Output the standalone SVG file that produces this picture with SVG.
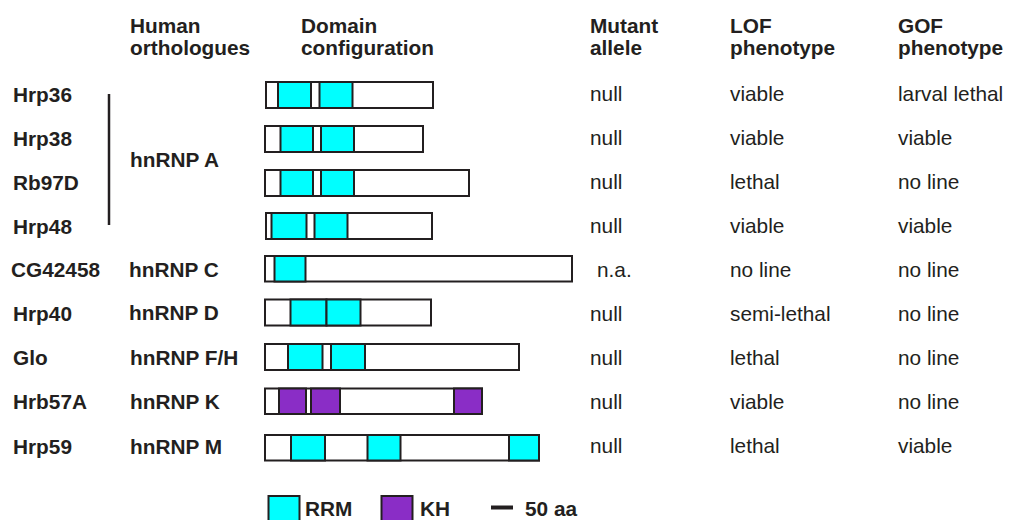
<svg xmlns="http://www.w3.org/2000/svg" width="1009" height="520" viewBox="0 0 1009 520">
<style>
text{font-family:"Liberation Sans",Arial,sans-serif;font-size:20.8px;fill:#231f20}
.b{font-weight:bold}
.bar{fill:#fff;stroke:#231f20;stroke-width:2}
.rrm{fill:#00ffff;stroke:#231f20;stroke-width:2}
.kh{fill:#8a2dc6;stroke:#231f20;stroke-width:2}
</style>
<rect width="1009" height="520" fill="#fff"/>
<g id="headers" class="b">
<text class="b" x="130" y="33">Human</text><text class="b" x="130" y="55">orthologues</text>
<text class="b" x="301" y="33">Domain</text><text class="b" x="301" y="55">configuration</text>
<text class="b" x="590" y="33">Mutant</text><text class="b" x="590" y="55">allele</text>
<text class="b" x="730" y="33">LOF</text><text class="b" x="730" y="55">phenotype</text>
<text class="b" x="898" y="33">GOF</text><text class="b" x="898" y="55">phenotype</text>
</g>
<g id="connectors"><line x1="109" y1="94" x2="109" y2="225" stroke="#231f20" stroke-width="2.5"/></g>
<g id="hnRNPA"><text class="b" x="130" y="167">hnRNP A</text></g>
<g id="Hrp36">
<text class="b" x="13" y="102">Hrp36</text>
<rect class="bar" x="266" y="82" width="167" height="26"/>
<rect class="rrm" x="278" y="82" width="33" height="26"/><rect class="rrm" x="319.5" y="82" width="33" height="26"/>
<text x="590" y="101">null</text><text x="730" y="101">viable</text><text x="898" y="101">larval lethal</text>
</g>
<g id="Hrp38">
<text class="b" x="13" y="146">Hrp38</text>
<rect class="bar" x="265" y="126" width="158" height="26"/>
<rect class="rrm" x="280.5" y="126" width="32.5" height="26"/><rect class="rrm" x="321" y="126" width="33" height="26"/>
<text x="590" y="145">null</text><text x="730" y="145">viable</text><text x="898" y="145">viable</text>
</g>
<g id="Rb97D">
<text class="b" x="13" y="190">Rb97D</text>
<rect class="bar" x="265" y="170" width="204" height="26"/>
<rect class="rrm" x="280.5" y="170" width="32.5" height="26"/><rect class="rrm" x="321" y="170" width="33" height="26"/>
<text x="590" y="189">null</text><text x="730" y="189">lethal</text><text x="898" y="189">no line</text>
</g>
<g id="Hrp48">
<text class="b" x="13" y="234">Hrp48</text>
<rect class="bar" x="266" y="213" width="166" height="26"/>
<rect class="rrm" x="271.5" y="213" width="35" height="26"/><rect class="rrm" x="314.5" y="213" width="33" height="26"/>
<text x="590" y="233">null</text><text x="730" y="233">viable</text><text x="898" y="233">viable</text>
</g>
<g id="CG42458">
<text class="b" x="11" y="277">CG42458</text><text class="b" x="129" y="277">hnRNP C</text>
<rect class="bar" x="265" y="256" width="307" height="25.5"/>
<rect class="rrm" x="274.5" y="256" width="31" height="25.5"/>
<text x="597" y="277">n.a.</text><text x="730" y="277">no line</text><text x="898" y="277">no line</text>
</g>
<g id="Hrp40">
<text class="b" x="13" y="321">Hrp40</text><text class="b" x="129" y="320">hnRNP D</text>
<rect class="bar" x="265" y="299.5" width="166" height="26"/>
<rect class="rrm" x="290.5" y="299.5" width="36" height="26"/><rect class="rrm" x="326.5" y="299.5" width="34" height="26"/>
<text x="590" y="321">null</text><text x="730" y="321">semi-lethal</text><text x="898" y="321">no line</text>
</g>
<g id="Glo">
<text class="b" x="13" y="365">Glo</text><text class="b" x="130" y="365">hnRNP F/H</text>
<rect class="bar" x="265" y="344" width="254" height="26"/>
<rect class="rrm" x="288" y="344" width="34.5" height="26"/><rect class="rrm" x="331" y="344" width="34" height="26"/>
<text x="590" y="365">null</text><text x="730" y="365">lethal</text><text x="898" y="365">no line</text>
</g>
<g id="Hrb57A">
<text class="b" x="13" y="409">Hrb57A</text><text class="b" x="130" y="409">hnRNP K</text>
<rect class="bar" x="265" y="388.5" width="217" height="25.5"/>
<rect class="kh" x="279" y="388.5" width="27" height="25.5"/><rect class="kh" x="311" y="388.5" width="29" height="25.5"/><rect class="kh" x="454" y="388.5" width="28" height="25.5"/>
<text x="590" y="409">null</text><text x="730" y="409">viable</text><text x="898" y="409">no line</text>
</g>
<g id="Hrp59">
<text class="b" x="13" y="454">Hrp59</text><text class="b" x="130" y="454">hnRNP M</text>
<rect class="bar" x="265" y="435" width="274" height="25.5"/>
<rect class="rrm" x="291" y="435" width="34" height="25.5"/><rect class="rrm" x="367.5" y="435" width="33" height="25.5"/><rect class="rrm" x="509" y="435" width="30" height="25.5"/>
<text x="590" y="453">null</text><text x="730" y="453">lethal</text><text x="898" y="453">viable</text>
</g>
<g id="legend">
<rect class="rrm" x="268.5" y="496" width="31" height="30"/><text class="b" x="305" y="516">RRM</text>
<rect class="kh" x="381.5" y="496" width="31" height="30"/><text class="b" x="420" y="516">KH</text>
<line x1="491" y1="507.5" x2="513" y2="507.5" stroke="#231f20" stroke-width="4"/><text class="b" x="525" y="516">50 aa</text>
</g>
</svg>
